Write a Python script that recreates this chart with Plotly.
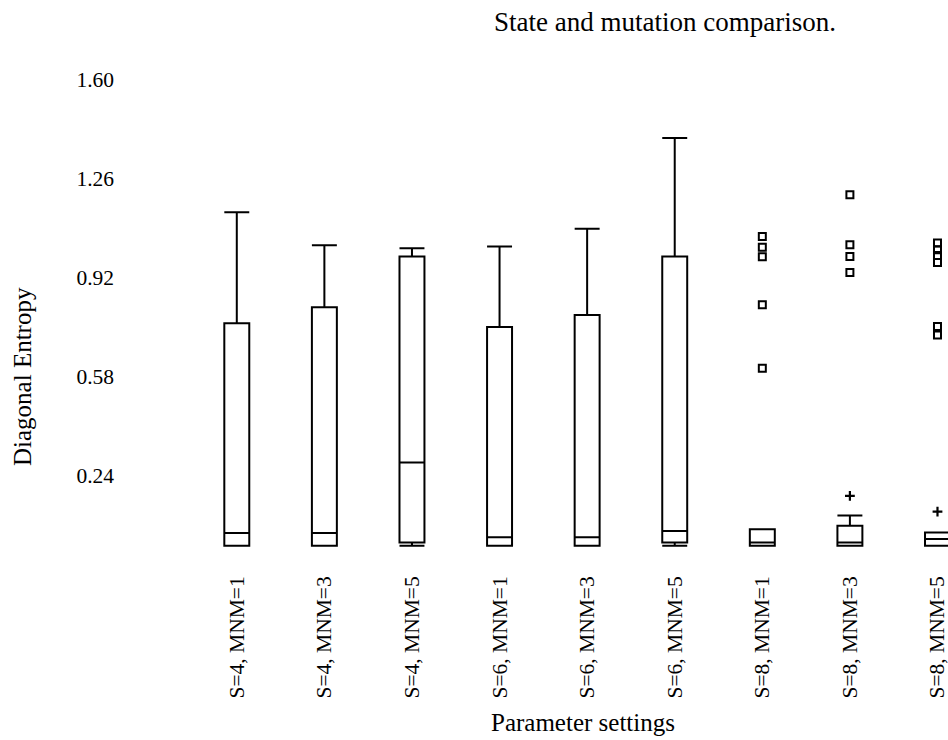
import plotly.graph_objects as go

categories = ["S=4, MNM=1", "S=4, MNM=3", "S=4, MNM=5",
              "S=6, MNM=1", "S=6, MNM=3", "S=6, MNM=5",
              "S=8, MNM=1", "S=8, MNM=3", "S=8, MNM=5"]
lower_fence = [0.0, 0.0, 0.0, 0.0, 0.0, 0.0, 0.0, 0.0, 0.0]
q1_vals = [0.0, 0.0, 0.011, 0.0, 0.0, 0.011, 0.0, 0.0, 0.0]
median_vals = [0.044, 0.044, 0.286, 0.029, 0.029, 0.051, 0.011, 0.011, 0.023]
q3_vals = [0.763, 0.818, 0.992, 0.750, 0.791, 0.992, 0.057, 0.069, 0.046]
upper_fence = [1.143, 1.030, 1.020, 1.026, 1.087, 1.398, 0.057, 0.104, 0.046]

# far outliers (squares)
far_s8_m1 = [1.060, 1.023, 0.991, 0.826, 0.609]
far_s8_m3 = [1.203, 1.032, 0.992, 0.937]
far_s8_m5 = [1.038, 1.015, 0.995, 0.971, 0.752, 0.723]
# mild outliers (plus signs)
mild_s8_m3 = [0.171]
mild_s8_m5 = [0.117]

ytick_vals = [0.24, 0.58, 0.92, 1.26, 1.60]
ytick_text = ["0.24", "0.58", "0.92", "1.26", "1.60"]

FONT = "Liberation Serif, Times New Roman, serif"

fig = go.Figure()
fig.add_trace(go.Box(
    x=categories, q1=q1_vals, median=median_vals, q3=q3_vals,
    lowerfence=lower_fence, upperfence=upper_fence,
    boxpoints=False, width=0.285, whiskerwidth=1,
    line=dict(color="black", width=2), fillcolor="white",
    showlegend=False, hoverinfo="skip"))

far_groups = [(categories[6], far_s8_m1), (categories[7], far_s8_m3), (categories[8], far_s8_m5)]
for cat, vals in far_groups:
    fig.add_trace(go.Scatter(
        x=[cat] * len(vals), y=vals, mode="markers",
        marker=dict(symbol="square-open", size=7, color="black",
                    line=dict(width=2, color="black")),
        showlegend=False, cliponaxis=False))

mild_groups = [(categories[7], mild_s8_m3), (categories[8], mild_s8_m5)]
for cat, vals in mild_groups:
    fig.add_trace(go.Scatter(
        x=[cat] * len(vals), y=vals, mode="markers",
        marker=dict(symbol="cross-thin", size=7, color="black",
                    line=dict(width=2.2, color="black")),
        showlegend=False, cliponaxis=False))

fig.update_layout(
    width=948, height=740,
    margin=dict(l=193, r=0, t=79, b=165, pad=0),
    paper_bgcolor="white", plot_bgcolor="white",
    font=dict(family=FONT, color="black", size=21),
    title=dict(text="State and mutation comparison.", x=665 / 948, xanchor="center",
               y=1 - 22 / 740, yanchor="middle",
               font=dict(family=FONT, size=27, color="black")),
    xaxis=dict(type="category", categoryorder="array", categoryarray=categories,
               range=[-0.5, 8.12], showgrid=False, zeroline=False, showline=False,
               ticks="", tickangle=-90, ticklabelstandoff=-4,
               tickfont=dict(family=FONT, size=21.5, color="black")),
    yaxis=dict(range=[-0.1, 1.6], tickvals=ytick_vals, ticktext=ytick_text,
               showgrid=False, zeroline=False, showline=False, ticks="",
               ticklabelstandoff=78,
               tickfont=dict(family=FONT, size=21.5, color="black")),
    annotations=[
        dict(text="Diagonal Entropy", xref="paper", yref="paper",
             x=(22 - 193) / 755, y=(575 - 377) / 496, textangle=-90,
             showarrow=False, xanchor="center", yanchor="middle",
             font=dict(family=FONT, size=25, color="black")),
        dict(text="Parameter settings", xref="paper", yref="paper",
             x=(583 - 193) / 755, y=(575 - 722) / 496,
             showarrow=False, xanchor="center", yanchor="middle",
             font=dict(family=FONT, size=25, color="black")),
    ],
)

fig.write_html("out.html", config={"displayModeBar": False},
               post_script="document.body.style.margin='0';document.body.style.overflow='hidden';")
